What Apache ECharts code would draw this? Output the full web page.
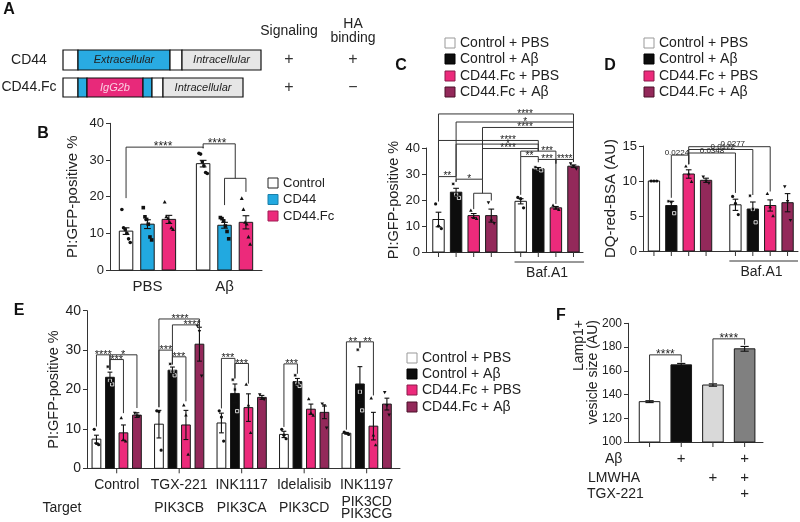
<!DOCTYPE html>
<html><head><meta charset="utf-8">
<script src="https://cdn.jsdelivr.net/npm/echarts@6.0.0/dist/echarts.min.js"></script>
<style>html,body{margin:0;padding:0;background:#fff}#c{width:800px;height:522px}</style>
</head><body><div id="c"></div>
<script>
const FONT = '"Liberation Sans", Arial, Helvetica, sans-serif';

// ---------------- DATA ----------------
// Panel B
const bGroups = ['PBS', 'Aβ'];
const bLegend = ['Control', 'CD44', 'CD44.Fc'];
const bMeans = [10.6, 12.5, 13.8, 29.0, 12.2, 13.0];
const bSem = [0.9, 1.2, 1.1, 0.9, 0.8, 1.8];
const bDots = [[16.5, 11.5, 11, 10, 8.5, 7.5], [17, 14.5, 13.8, 12.5, 9.0, 8.2], [18.5, 14.5, 14, 13, 11.5, 11],
  [31.8, 31.6, 29.5, 28.4, 26.6, 26.3], [14.3, 14, 13.4, 12, 10.5, 8.5], [19.5, 16.5, 13, 12.5, 9, 7]];
const bBrackets = [[0, 3, 33.5, 19.6, 33.2], [3, 4.5, 34.4, 33.2, 25.0], [4, 5, 25.0, 17.7, 21.3]];
const bLabels = [[1.73, 33.5, '****'], [3.65, 34.4, '****']];

// Panels C, D, E legend
const treatLegend = ['Control + PBS', 'Control + Aβ', 'CD44.Fc + PBS', 'CD44.Fc + Aβ'];

// Panel C
const cGroups = ['', 'Baf.A1'];
const cMeans = [12.5, 23, 14, 14, 19.5, 32, 17, 33];
const cSem = [2.8, 1.5, 0.8, 2.5, 1.0, 0.5, 0.5, 0.5];
const cDots = [[18.5, 10, 9], [26.2, 22, 20.8], [16, 13.2, 12.8], [19, 12, 11], [21, 20.5, 17], [32.6, 32, 31.4], [17.9, 16.8, 16.3], [34, 33, 32]];
const cBrackets = [
  [0, 1, 29.0, 19.4, 27.0], [1, 2.5, 28.0, 27.0, 22.6], [2, 3, 22.6, 16.5, 19.8],
  [0, 7, 53.1, 29.0, 34.6], [1, 7, 50.0, 29.0, 34.6], [2.5, 7, 47.9, 28.0, 34.6],
  [0, 5, 42.9, 29.0, 38.8], [1, 5, 41.5, 29.0, 38.8], [2.5, 5, 39.8, 28.0, 38.8],
  [4, 5, 36.7, 22.0, 35.4], [4, 6, 38.8, 36.7, 18.5], [5, 6, 35.6, 34.5, 34.0], [6, 7, 35.6, 34.0, 34.8]];
const cLabels = [[0.5, 29.0, '**'], [1.74, 28.0, '*'], [4.25, 53.1, '****'], [4.25, 50.0, '*'], [4.25, 47.9, '****'],
  [3.57, 42.9, '****'], [3.57, 41.5, '*'], [3.57, 39.8, '****'], [4.5, 36.7, '**'], [5.5, 38.8, '***'], [5.5, 35.6, '***'], [6.5, 35.6, '****']];

// Panel D
const dGroups = ['', 'Baf.A1'];
const dMeans = [10, 6.5, 11, 10.1, 6.6, 6.0, 6.5, 6.9];
const dSem = [0, 0.6, 0.6, 0.3, 0.8, 1.0, 0.8, 1.3];
const dDots = [[10, 10, 10], [7.1, 7.0, 5.4], [12.1, 11.0, 9.9], [10.6, 10.0, 9.7], [7.8, 6.8, 5.2], [7.9, 6.0, 4.1], [8.2, 6.3, 5.0], [9.2, 7.1, 4.4]];
const dBrackets = [[1, 2, 13.7, 7.6, 12.4], [2, 4, 14.0, 12.4, 8.3], [2, 5, 14.5, 12.4, 8.0], [2, 6, 14.9, 12.4, 8.5]];
const dLabels = [[1.32, 13.7, '0.0224'], [3.2, 14.0, '0.0348'], [3.57, 14.5, '0.0122'], [3.91, 14.9, '0.0277']];

// Panel E
const eGroups = ['Control', 'TGX-221', 'INK1117', 'Idelalisib', 'INK1197'];
const eTargets = ['', 'PIK3CB', 'PIK3CA', 'PIK3CD', 'PIK3CD\nPIK3CG'];
const eMeans = [7.4, 23.1, 9.0, 13.5, 11.2, 24.9, 11.0, 31.5, 11.5, 19.0, 15.4, 18.0, 8.6, 22.0, 15.0, 14.2, 8.9, 21.4, 10.7, 16.3];
const eSem = [1.0, 1.3, 2.0, 0.6, 3.5, 0.8, 3.7, 4.3, 2.5, 2.4, 3.5, 0.5, 0.8, 0.8, 1.3, 1.6, 0.2, 4.4, 3.5, 1.5];
const eDots = [[9.9, 6.3, 6.0], [25.8, 22.2, 21.3], [12.8, 7.3, 6.9], [14.0, 13.3, 13.2],
  [14.6, 14.4, 4.6], [26.5, 24.6, 23.6], [16.0, 13.5, 3.5], [36.2, 34.8, 23.5],
  [14.6, 13.0, 6.9], [22.5, 20.0, 14.5], [21.3, 16.0, 9.0], [18.7, 17.8, 17.5],
  [9.9, 8.4, 7.5], [23.6, 21.5, 20.9], [17.6, 14.0, 13.4], [16.4, 15.9, 10.3],
  [9.2, 8.9, 8.6], [30.1, 19.4, 14.7], [17.8, 8.4, 5.9], [19.3, 16.0, 13.6]];
const eBrackets = [
  [0, 1, 28.8, 10.6, 25.0], [1, 3, 28.8, 25.0, 15.3], [1, 2, 27.6, 25.0, 14.0],
  [4, 7, 37.9, 15.5, 35.1], [5, 7, 36.4, 26.3, 35.1], [4, 5, 30.0, 15.5, 26.5], [5, 6, 28.3, 26.5, 17.0],
  [8, 9, 27.9, 15.2, 22.8], [9, 10, 26.6, 22.8, 21.5],
  [12, 13, 26.5, 10.5, 24.0],
  [16, 17, 32.1, 9.8, 30.6], [17, 18, 32.1, 30.6, 18.5]];
const eLabels = [[0.5, 28.8, '****'], [1.97, 28.8, '*'], [1.5, 27.6, '***'],
  [5.56, 37.9, '****'], [6.45, 36.4, '****'], [4.52, 30.0, '***'], [5.48, 28.3, '***'],
  [8.48, 27.9, '***'], [9.5, 26.6, '***'], [12.57, 26.5, '***'], [16.48, 32.1, '**'], [17.57, 32.1, '**']];

// Panel F
const fMeans = [134, 165, 148, 178.5];
const fSem = [0.8, 1.2, 1.0, 2.0];
const fRows = ['Aβ', 'LMWHA', 'TGX-221'];
const fPlus = [[0, 1, 0, 1], [0, 0, 1, 1], [0, 0, 0, 1]];
const fBrackets = [[0, 1, 173.4, 135.4, 166.9], [2, 3, 186.9, 149.5, 181.9]];
const fLabels = [[0.5, 173.4, '****'], [2.5, 186.9, '****']];

// ---------------- STYLE / LAYOUT ----------------
const PINK = '#ec2a7b', MAROON = '#93295a', BLUE = '#22a9e0';
const treatColors = ['#ffffff', '#0d0d0d', PINK, MAROON];
const treatShapes = ['circle', 'square', 'triangle', 'invtriangle'];
const treatDotFill = ['#111', '#111', '#111', '#111'];
const treatDotStroke = [null, '#fff', null, null];

const series = [], grid = [], xAxis = [], yAxis = [];

function marker(shape, cx, cy, r, fill, stroke) {
  const st = {fill: fill, stroke: stroke || null, lineWidth: stroke ? 0.8 : 0};
  if (shape === 'circle') return {type: 'circle', shape: {cx: cx, cy: cy, r: r}, style: st};
  if (shape === 'square') return {type: 'rect', shape: {x: cx - r, y: cy - r, width: 2 * r, height: 2 * r}, style: st};
  if (shape === 'triangle') return {type: 'polygon', shape: {points: [[cx, cy - r * 1.2], [cx + r * 1.1, cy + r * 0.8], [cx - r * 1.1, cy + r * 0.8]]}, style: st};
  return {type: 'polygon', shape: {points: [[cx, cy + r * 1.2], [cx + r * 1.1, cy - r * 0.8], [cx - r * 1.1, cy - r * 0.8]]}, style: st};
}
const empty = {type: 'group', children: []};

function addPanel(P, D) {
  const gi = grid.length;
  const pos = i => Math.floor(i / P.nS) * P.step + (i % P.nS);
  const bx = idx => { const i0 = Math.floor(idx), f = idx - i0; return f === 0 ? pos(i0) : pos(i0) + (pos(i0 + 1) - pos(i0)) * f; };
  grid.push({left: P.left, top: P.top, width: P.width, height: P.height});
  xAxis.push({gridIndex: gi, type: 'value', min: P.xMin, max: P.xMax,
    axisLine: {show: true, onZero: false, lineStyle: {color: '#333', width: 1}},
    axisTick: {show: false}, axisLabel: {show: false}, splitLine: {show: false}});
  yAxis.push({gridIndex: gi, type: 'value', min: P.yMin, max: P.yMax, interval: P.yInt,
    axisLine: {show: true, onZero: false, lineStyle: {color: '#333', width: 1}},
    axisTick: {show: true, length: 4, lineStyle: {color: '#333'}},
    axisLabel: {fontSize: P.tickFont, fontFamily: FONT, color: '#222', margin: 6},
    splitLine: {show: false},
    name: P.yName || '', nameLocation: 'middle', nameGap: P.nameGap || 30,
    nameTextStyle: {fontSize: P.nameFont || 14, fontFamily: FONT, color: '#222'}});
  const base = {type: 'custom', xAxisIndex: gi, yAxisIndex: gi, silent: true, animation: false, clip: false};
  const bw = api => api.size([P.barW, 0])[0];

  // bars
  series.push(Object.assign({}, base, {z: 2, data: D.means.map((m, i) => [bx(i), m]), renderItem: (p, api) => {
    const i = p.dataIndex, x = api.value(0), m = api.value(1);
    const b = api.coord([x, P.yMin]), t = api.coord([x, m]), w = bw(api);
    return {type: 'rect', shape: {x: b[0] - w / 2, y: t[1], width: w, height: b[1] - t[1]},
      style: {fill: P.colors[i % P.nS], stroke: '#1a1a1a', lineWidth: 1}};
  }}));
  // dots
  if (D.dots) {
    const pts = [];
    D.dots.forEach((arr, i) => arr.forEach((v, j) => pts.push([bx(i), v, j, arr.length, i % P.nS])));
    series.push(Object.assign({}, base, {z: 3, data: pts, renderItem: (p, api) => {
      const x = api.value(0), v = api.value(1), j = api.value(2), k = api.value(3), s = api.value(4);
      const c = api.coord([x, v]), w = bw(api);
      const spread = k > 1 ? Math.min(0.25, 0.62 / (k - 1)) * w : 0;
      return marker(P.shapes[s], c[0] + (j - (k - 1) / 2) * spread, c[1], P.dotR, P.dotFill[s], P.dotStroke[s]);
    }}));
  }
  // error bars
  series.push(Object.assign({}, base, {z: 4, data: D.means.map((m, i) => [bx(i), m, D.sem[i]]), renderItem: (p, api) => {
    const x = api.value(0), m = api.value(1), s = api.value(2);
    if (!(s > 0.05)) return empty;
    const hi = api.coord([x, m + s]), lo = api.coord([x, m - s]), w = bw(api) * P.capW;
    const st = {stroke: '#111', lineWidth: 1.1};
    return {type: 'group', children: [
      {type: 'line', shape: {x1: hi[0], y1: hi[1], x2: lo[0], y2: lo[1]}, style: st},
      {type: 'line', shape: {x1: hi[0] - w / 2, y1: hi[1], x2: hi[0] + w / 2, y2: hi[1]}, style: st},
      {type: 'line', shape: {x1: lo[0] - w / 2, y1: lo[1], x2: lo[0] + w / 2, y2: lo[1]}, style: st}]};
  }}));
  // brackets
  if (D.brackets) series.push(Object.assign({}, base, {z: 5, data: D.brackets.map(b => [bx(b[0]), b[2]]), renderItem: (p, api) => {
    const b = D.brackets[p.dataIndex], x1 = bx(b[0]), x2 = bx(b[1]);
    return {type: 'polyline', shape: {points: [api.coord([x1, b[3]]), api.coord([x1, b[2]]), api.coord([x2, b[2]]), api.coord([x2, b[4]])]},
      style: {stroke: '#333', lineWidth: 1, fill: null}};
  }}));
  // bracket labels
  if (D.labels) series.push(Object.assign({}, base, {z: 6, data: D.labels.map(L => [bx(L[0]), L[1]]), renderItem: (p, api) => {
    const L = D.labels[p.dataIndex], c = api.coord([api.value(0), api.value(1)]);
    return {type: 'text', x: c[0], y: c[1] + (P.labelDy || 0),
      style: {text: L[2], fontSize: P.starFont, fontFamily: FONT, fill: '#222', align: 'center', verticalAlign: P.labelVA || 'middle'}};
  }}));
  // x ticks
  if (P.xTicks) {
    const xs = P.xTicks === 'bars' ? D.means.map((m, i) => bx(i)) : D.groupLabels.map((g, k) => bx(k * P.nS + (P.nS - 1) / 2));
    series.push(Object.assign({}, base, {z: 5, data: xs.map(x => [x, P.yMin]), renderItem: (p, api) => {
      const c = api.coord([api.value(0), P.yMin]);
      return {type: 'line', shape: {x1: c[0], y1: c[1], x2: c[0], y2: c[1] + 5}, style: {stroke: '#333', lineWidth: 1}};
    }}));
  }
  // group labels
  if (D.groupLabels) series.push(Object.assign({}, base, {z: 5, data: D.groupLabels.map((g, k) => [bx(k * P.nS + (P.nS - 1) / 2), P.yMin]), renderItem: (p, api) => {
    const t = D.groupLabels[p.dataIndex]; if (!t) return empty;
    const c = api.coord([api.value(0), P.yMin]);
    const children = [{type: 'text', x: c[0], y: c[1] + P.groupDy,
      style: {text: t, fontSize: P.groupFont, fontFamily: FONT, fill: '#222', align: 'center', verticalAlign: 'middle'}}];
    if (P.groupLine) {
      const l = api.coord([bx(p.dataIndex * P.nS) - 0.35, P.yMin]), r = api.coord([bx(p.dataIndex * P.nS + P.nS - 1) + 0.6, P.yMin]);
      children.push({type: 'line', shape: {x1: l[0], y1: c[1] + P.groupLine, x2: r[0], y2: c[1] + P.groupLine}, style: {stroke: '#333', lineWidth: 1}});
    }
    if (D.subLabels && D.subLabels[p.dataIndex]) children.push({type: 'text', x: c[0], y: c[1] + P.subDy,
      style: {text: D.subLabels[p.dataIndex], fontSize: P.groupFont, lineHeight: 12, fontFamily: FONT, fill: '#222', align: 'center', verticalAlign: 'middle'}});
    return {type: 'group', children: children};
  }}));
  // plus rows (panel F)
  if (D.plus) {
    const pts = [];
    D.plus.forEach((row, r) => row.forEach((f, i) => { if (f) pts.push([bx(i), r]); }));
    series.push(Object.assign({}, base, {z: 5, data: pts, renderItem: (p, api) => {
      const c = api.coord([api.value(0), P.yMin]);
      return {type: 'text', x: c[0], y: c[1] + P.plusDy[api.value(1)],
        style: {text: '+', fontSize: 15, fontFamily: FONT, fill: '#222', align: 'center', verticalAlign: 'middle'}};
    }}));
  }
}

addPanel({left: 110, top: 123.3, width: 152, height: 146.7, xMin: -0.75, xMax: 6.35, yMin: 0, yMax: 40, yInt: 10,
  nS: 3, step: 3.6, barW: 0.63, capW: 0.5, colors: ['#ffffff', BLUE, PINK], shapes: ['circle', 'square', 'triangle'],
  dotR: 1.8, dotFill: ['#111', '#111', '#111'], dotStroke: [null, null, null],
  tickFont: 13, yName: 'PI:GFP-positive %', nameGap: 30, nameFont: 15, starFont: 12, groupDy: 17, groupFont: 15},
  {means: bMeans, sem: bSem, dots: bDots, brackets: bBrackets, labels: bLabels, groupLabels: bGroups});

addPanel({left: 426, top: 148, width: 157, height: 104, xMin: -0.71, xMax: 8.21, yMin: 0, yMax: 40, yInt: 10,
  nS: 4, step: 4.67, barW: 0.65, capW: 0.5, colors: treatColors, shapes: treatShapes,
  dotR: 1.6, dotFill: treatDotFill, dotStroke: treatDotStroke,
  tickFont: 13, yName: 'PI:GFP-positive %', nameGap: 22, nameFont: 14.5, starFont: 10, xTicks: 'bars',
  groupDy: 21, groupFont: 14, groupLine: 10},
  {means: cMeans, sem: cSem, dots: cDots, brackets: cBrackets, labels: cLabels, groupLabels: cGroups});

addPanel({left: 643, top: 146, width: 155, height: 105, xMin: -0.63, xMax: 8.29, yMin: 0, yMax: 15, yInt: 5,
  nS: 4, step: 4.69, barW: 0.65, capW: 0.5, colors: treatColors, shapes: treatShapes,
  dotR: 1.6, dotFill: treatDotFill, dotStroke: treatDotStroke,
  tickFont: 13, yName: 'DQ-red-BSA (AU)', nameGap: 22, nameFont: 15, starFont: 8, labelVA: 'bottom', labelDy: 1.5, xTicks: 'bars',
  groupDy: 21, groupFont: 14, groupLine: 10},
  {means: dMeans, sem: dSem, dots: dDots, brackets: dBrackets, labels: dLabels, groupLabels: dGroups});

addPanel({left: 87, top: 310.7, width: 313, height: 157.6, xMin: -0.7, xMax: 22.49, yMin: 0, yMax: 40, yInt: 10,
  nS: 4, step: 4.63, barW: 0.65, capW: 0.55, colors: treatColors, shapes: treatShapes,
  dotR: 1.6, dotFill: treatDotFill, dotStroke: treatDotStroke,
  tickFont: 14, yName: 'PI:GFP-positive %', nameGap: 22, nameFont: 14.5, starFont: 11, xTicks: 'groups',
  groupDy: 17, subDy: 40, groupFont: 14},
  {means: eMeans, sem: eSem, dots: eDots, brackets: eBrackets, labels: eLabels, groupLabels: eGroups, subLabels: eTargets});

addPanel({left: 628, top: 323.3, width: 135, height: 118.7, xMin: -0.68, xMax: 3.58, yMin: 100, yMax: 200, yInt: 20,
  nS: 4, step: 4, barW: 0.65, capW: 0.4, colors: ['#ffffff', '#0d0d0d', '#d9d9d9', '#808080'],
  tickFont: 12, starFont: 12, xTicks: 'bars', plusDy: [17, 36, 52]},
  {means: fMeans, sem: fSem, brackets: fBrackets, labels: fLabels, plus: fPlus});

// ---------------- graphic (schematic, legends, headings) ----------------
const graphic = [];
function gText(x, y, text, opt) {
  graphic.push({type: 'text', x: x, y: y, silent: true,
    style: Object.assign({text: text, fontSize: 14, fontFamily: FONT, fill: '#222', align: 'center', verticalAlign: 'middle'}, opt || {})});
}
function gRect(x, y, w, h, fill, stroke, lw) {
  graphic.push({type: 'rect', silent: true, shape: {x: x, y: y, width: w, height: h}, style: {fill: fill, stroke: stroke, lineWidth: lw || 1}});
}
// panel letters
[['A', 9, 10], ['B', 43, 134], ['C', 401, 66], ['D', 610, 66], ['E', 19, 311], ['F', 561, 316]].forEach(L =>
  gText(L[1], L[2], L[0], {fontSize: 16, fontWeight: 'bold', fill: '#111'}));

// panel A schematic
const aRows = [
  {label: 'CD44', y: 50, h: 20, segs: [[63, 78, '#fff'], [78, 170, '#29abe2'], [170, 182, '#fff'], [182, 261, '#e6e6e6']],
    texts: [[124, 'Extracellular', '#222'], [221.5, 'Intracellular', '#222']], sig: '+', ha: '+'},
  {label: 'CD44.Fc', y: 78, h: 19, segs: [[63, 78, '#fff'], [78, 87, '#29abe2'], [87, 143, '#e8297a'], [143, 152, '#29abe2'], [152, 163, '#fff'], [163, 243, '#e6e6e6']],
    texts: [[115, 'IgG2b', '#fbd0e2'], [203, 'Intracellular', '#222']], sig: '+', ha: '−'}];
aRows.forEach(r => {
  r.segs.forEach(s => gRect(s[0], r.y, s[1] - s[0], r.h, s[2], '#111', 1.2));
  r.texts.forEach(t => gText(t[0], r.y + r.h / 2, t[1], {fontSize: 11, fontStyle: 'italic', fill: t[2]}));
  gText(29, r.y + r.h / 2, r.label, {fontSize: 14});
  gText(289, r.y + r.h / 2, r.sig, {fontSize: 16, fill: '#333'});
  gText(353, r.y + r.h / 2, r.ha, {fontSize: 16, fill: '#333'});
});
gText(289, 31, 'Signaling', {fontSize: 14});
gText(353, 24, 'HA', {fontSize: 14});
gText(353, 38, 'binding', {fontSize: 14});

// legends
function legend(x0, ys, names, fills, strokes, fs) {
  names.forEach((n, i) => { gRect(x0, ys[i] - 5, 10, 10, fills[i], strokes[i], 1); gText(x0 + 15, ys[i], n, {align: 'left', fontSize: fs}); });
}
legend(268, [183, 199.5, 216], bLegend, ['#fff', BLUE, PINK], ['#222', '#1b7fa8', '#a01c55'], 13);
const tStroke = ['#999', '#000', '#8a1a4a', '#4a1029'];
legend(445, [43, 59, 76, 92], treatLegend, treatColors, tStroke, 14);
legend(644, [43, 59, 76, 92], treatLegend, treatColors, tStroke, 14);
legend(407, [358, 374, 390, 407], treatLegend, treatColors, tStroke, 14);

// E row header, F row headers and axis title
gText(62, 508, 'Target', {fontSize: 14});
gText(605, 459, fRows[0], {align: 'left', fontSize: 14});
gText(588, 478, fRows[1], {align: 'left', fontSize: 14});
gText(587, 494, fRows[2], {align: 'left', fontSize: 14});
graphic.push({type: 'text', x: 586, y: 320, rotation: Math.PI / 2, silent: true,
  style: {text: 'Lamp1+\nvesicle size (AU)', fontSize: 14, lineHeight: 14, fontFamily: FONT, fill: '#222', align: 'right', verticalAlign: 'middle'}});

const chart = echarts.init(document.getElementById('c'), null, {renderer: 'canvas'});
chart.setOption({animation: false, backgroundColor: '#fff', textStyle: {fontFamily: FONT},
  grid: grid, xAxis: xAxis, yAxis: yAxis, series: series, graphic: graphic});
</script></body></html>
